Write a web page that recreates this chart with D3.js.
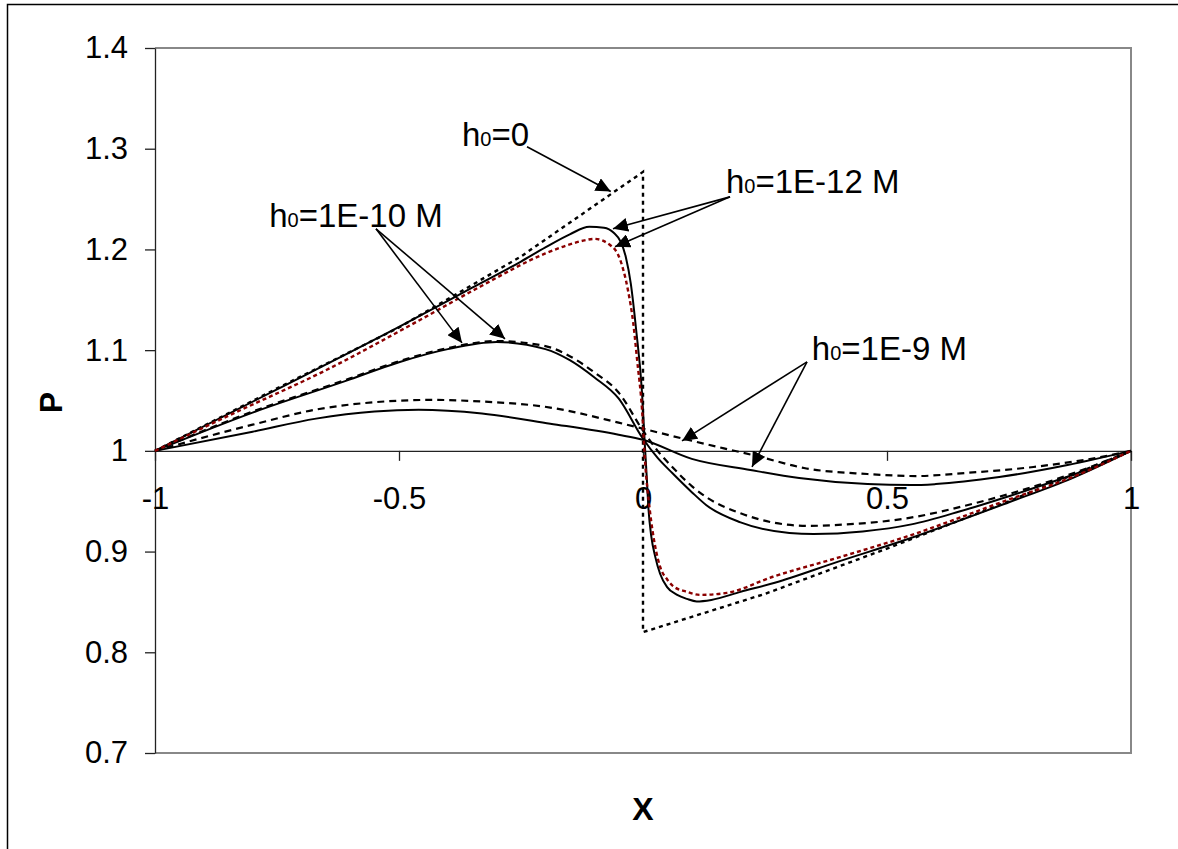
<!DOCTYPE html>
<html lang="en">
<head>
<meta charset="UTF-8">
<title>P vs X</title>
<script src="https://cdnjs.cloudflare.com/ajax/libs/d3/7.8.5/d3.min.js"></script>
<style>
    body { margin: 0; background: #fff; }
    text { font-family: "Liberation Sans", Arial, sans-serif; }
</style>
</head>
<body>

<div id="chart"></div>

<script>
    // tick values
    var xTicks = [-1, -0.5, 0, 0.5, 1];
    var yTicks = [0.7, 0.8, 0.9, 1, 1.1, 1.2, 1.3, 1.4];

    // curves as [X, P]
    var h0_zero = [[-1, 1], [-0.75, 1.062], [-0.5, 1.1225], [-0.25, 1.193], [0, 1.277],
                   [0, 0.82], [0.25, 0.858], [0.5, 0.903], [0.75, 0.95], [1, 1]];

    var h12_solid = [[-1, 1], [-0.75, 1.061], [-0.5, 1.123], [-0.35, 1.162], [-0.25, 1.188],
                     [-0.2, 1.202], [-0.15, 1.215], [-0.11, 1.2225], [-0.08, 1.2215], [-0.06, 1.2165],
                     [-0.045, 1.207], [-0.035, 1.192], [-0.025, 1.166], [-0.014, 1.12], [-0.002, 1.058],
                     [0.004, 1.004], [0.008, 0.971], [0.011, 0.944], [0.017, 0.915], [0.025, 0.895],
                     [0.035, 0.878], [0.049, 0.865], [0.07, 0.857], [0.09, 0.853], [0.11, 0.8505],
                     [0.14, 0.852], [0.2, 0.86], [0.27, 0.869], [0.4, 0.89], [0.54, 0.912],
                     [0.75, 0.949], [0.88, 0.973], [1, 1]];

    var h12_red = [[-1, 1], [-0.84, 1.037], [-0.65, 1.08], [-0.457, 1.13], [-0.334, 1.163],
                   [-0.2, 1.196], [-0.156, 1.204], [-0.12, 1.209], [-0.1, 1.2105], [-0.068, 1.2046],
                   [-0.047, 1.19], [-0.031, 1.16], [-0.02, 1.127], [-0.012, 1.09], [-0.002, 1.041],
                   [0.004, 0.991], [0.014, 0.941], [0.025, 0.905], [0.035, 0.885], [0.05, 0.872],
                   [0.061, 0.866], [0.09, 0.86], [0.117, 0.857], [0.172, 0.859], [0.266, 0.875],
                   [0.4, 0.894], [0.541, 0.915], [0.746, 0.951], [0.88, 0.974], [1, 1]];

    var h10_solid = [[-1, 1], [-0.8, 1.038], [-0.6, 1.071], [-0.5, 1.088], [-0.4, 1.101],
                     [-0.3, 1.108], [-0.2, 1.101], [-0.15, 1.09], [-0.1, 1.073], [-0.05, 1.052],
                     [0, 1.012], [0.03, 0.993], [0.06, 0.978], [0.1, 0.959], [0.13, 0.946],
                     [0.2, 0.929], [0.3, 0.9185], [0.35, 0.9175], [0.45, 0.92], [0.55, 0.927],
                     [0.65, 0.94], [0.75, 0.955], [0.85, 0.971], [0.93, 0.985], [1, 1]];

    var h10_dash = [[-1, 1], [-0.8, 1.039], [-0.6, 1.072], [-0.5, 1.089], [-0.4, 1.102],
                    [-0.3, 1.109], [-0.2, 1.104], [-0.15, 1.094], [-0.1, 1.078], [-0.05, 1.058],
                    [0, 1.02], [0.03, 1.0], [0.06, 0.984], [0.1, 0.965], [0.13, 0.954],
                    [0.2, 0.938], [0.27, 0.9285], [0.34, 0.9255], [0.4, 0.9265], [0.54, 0.933],
                    [0.68, 0.948], [0.81, 0.966], [0.9, 0.981], [1, 1]];

    var h9_solid = [[-1, 1], [-0.8, 1.019], [-0.67, 1.032], [-0.55, 1.039], [-0.46, 1.0407],
                    [-0.33, 1.037], [-0.19, 1.027], [-0.05, 1.016], [0, 1.011], [0.1, 0.992],
                    [0.22, 0.981], [0.32, 0.973], [0.46, 0.967], [0.55, 0.966], [0.6, 0.967],
                    [0.73, 0.974], [0.87, 0.986], [1, 1]];

    var h9_dash = [[-1, 1], [-0.8, 1.026], [-0.67, 1.041], [-0.53, 1.049], [-0.43, 1.0506],
                   [-0.33, 1.049], [-0.19, 1.043], [-0.05, 1.028], [0, 1.022], [0.1, 1.01],
                   [0.24, 0.994], [0.33, 0.983], [0.46, 0.977], [0.56, 0.975], [0.66, 0.978],
                   [0.8, 0.984], [0.94, 0.994], [1, 1]];

    // annotation labels: text after the subscript, text position, arrow start, arrow tips (all in X, P)
    var annText = ["=0", "=1E-12 M", "=1E-10 M", "=1E-9 M"];
    var annAnchor = ["end", "start", "start", "start"];
    var annPos = [[-0.2336, 1.303], [0.17, 1.2562], [-0.766, 1.2224], [0.346, 1.0904]];
    var annFrom = [[-0.2377, 1.3019], [0.1783, 1.2522], [-0.5471, 1.2205], [0.3361, 1.0884]];
    var annTips = [
        [[-0.066, 1.2575]],
        [[-0.0615, 1.2205], [-0.0574, 1.2026]],
        [[-0.3709, 1.1072], [-0.2828, 1.1112]],
        [[0.0799, 1.0099], [0.2234, 0.9841]]
    ];

    var width = 1178;
    var height = 849;

    var svg = d3.select("#chart")
        .append("svg")
        .attr("width", width)
        .attr("height", height);

    svg.append("rect")
        .attr("width", width)
        .attr("height", height)
        .attr("fill", "#fff");

    // outer chart frame (runs off the right and bottom of the picture)
    svg.append("rect")
        .attr("x", 7.5).attr("y", 4.5)
        .attr("width", 1300).attr("height", 1000)
        .attr("fill", "none")
        .attr("stroke", "#000")
        .attr("stroke-width", 1.5);

    var x = d3.scaleLinear().domain([-1, 1]).range([155, 1131]);
    var y = d3.scaleLinear().domain([0.7, 1.4]).range([753, 48]);

    // plot area border
    svg.append("path")
        .attr("d", "M" + x(-1) + "," + y(1.4) + "H" + x(1) + "V" + y(0.7) + "H" + x(-1))
        .attr("fill", "none")
        .attr("stroke", "#888")
        .attr("stroke-width", 2);

    svg.append("g")
        .attr("transform", "translate(" + x(-1) + ",0)")
        .call(d3.axisLeft(y).tickValues(yTicks).tickSize(10).tickSizeOuter(0).tickPadding(17)
            .tickFormat(function(d) { return String(d); }));

    svg.append("g")
        .attr("transform", "translate(0," + y(1) + ")")
        .call(d3.axisBottom(x).tickValues(xTicks).tickSize(10).tickSizeOuter(0).tickPadding(26)
            .tickFormat(function(d) { return String(d); }));

    svg.selectAll(".tick text")
        .attr("font-family", "Liberation Sans, Arial, sans-serif")
        .attr("font-size", 31)
        .attr("fill", "#000");
    svg.selectAll(".domain, .tick line")
        .attr("stroke", "#222")
        .attr("stroke-width", 1.3);

    // axis titles
    svg.append("text")
        .attr("x", x(0)).attr("y", 820)
        .attr("text-anchor", "middle")
        .attr("font-size", 32).attr("font-weight", "bold")
        .text("X");

    svg.append("text")
        .attr("transform", "translate(62," + (y(1.05) + 2) + ") rotate(-90)")
        .attr("text-anchor", "middle")
        .attr("font-size", 32).attr("font-weight", "bold")
        .text("P");

    // curves
    var smooth = d3.line()
        .x(function(d) { return x(d[0]); })
        .y(function(d) { return y(d[1]); })
        .curve(d3.curveMonotoneX);
    var straight = d3.line()
        .x(function(d) { return x(d[0]); })
        .y(function(d) { return y(d[1]); });

    var curves = [
        {data: h9_dash, line: smooth, color: "#000", dash: "7,5", w: 2.2},
        {data: h9_solid, line: smooth, color: "#000", dash: null, w: 2},
        {data: h10_dash, line: smooth, color: "#000", dash: "7,5", w: 2.2},
        {data: h10_solid, line: smooth, color: "#000", dash: null, w: 2},
        {data: h0_zero, line: straight, color: "#000", dash: "4,4", w: 2.4},
        {data: h12_solid, line: smooth, color: "#000", dash: null, w: 2},
        {data: h12_red, line: smooth, color: "#8b0000", dash: "4,3", w: 2.4}
    ];

    svg.selectAll("path.curve")
        .data(curves)
        .enter()
        .append("path")
        .attr("class", "curve")
        .attr("d", function(d) { return d.line(d.data); })
        .attr("fill", "none")
        .attr("stroke", function(d) { return d.color; })
        .attr("stroke-width", function(d) { return d.w; })
        .attr("stroke-dasharray", function(d) { return d.dash; });

    // arrows
    svg.append("defs").append("marker")
        .attr("id", "head")
        .attr("markerUnits", "userSpaceOnUse")
        .attr("markerWidth", 16).attr("markerHeight", 14)
        .attr("refX", 15).attr("refY", 7)
        .attr("orient", "auto")
        .append("path")
        .attr("d", "M0,0L15,7L0,14Z")
        .attr("fill", "#000");

    annTips.forEach(function(tips, i) {
        tips.forEach(function(t) {
            svg.append("line")
                .attr("x1", x(annFrom[i][0])).attr("y1", y(annFrom[i][1]))
                .attr("x2", x(t[0])).attr("y2", y(t[1]))
                .attr("stroke", "#000")
                .attr("stroke-width", 1.6)
                .attr("marker-end", "url(#head)");
        });
    });

    // labels h0=...
    annText.forEach(function(s, i) {
        var t = svg.append("text")
            .attr("x", x(annPos[i][0])).attr("y", y(annPos[i][1]))
            .attr("text-anchor", annAnchor[i])
            .attr("font-size", 33)
            .attr("fill", "#000");
        t.append("tspan").text("h");
        t.append("tspan").attr("font-size", 20).text("0");
        t.append("tspan").text(s);
    });
</script>

</body>
</html>
